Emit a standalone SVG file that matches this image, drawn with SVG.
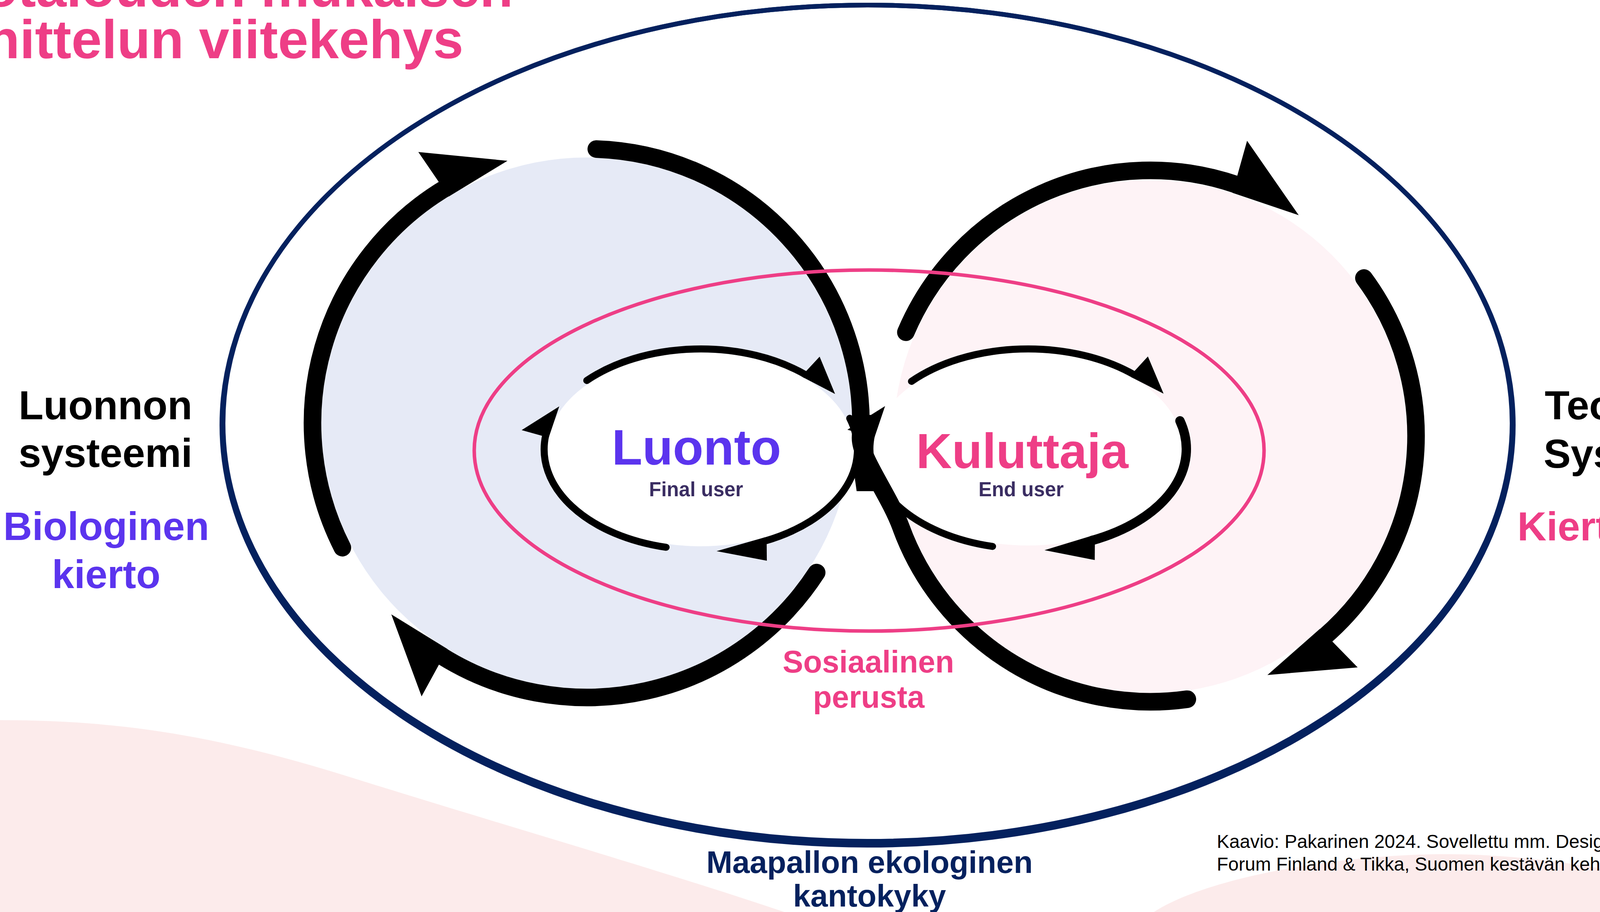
<svg xmlns="http://www.w3.org/2000/svg" width="4497" height="2334" viewBox="0 0 4497 2334">
<defs>
<style>
text{font-family:"Liberation Sans",Arial,sans-serif;font-weight:bold}
.ring{fill:none;stroke:#000;stroke-width:45;stroke-linecap:round}
.inner{fill:none;stroke:#000;stroke-width:18;stroke-linecap:round}
.ah{fill:#000}
.pk{fill:#EE3E86}
.pu{fill:#5B34EE}
.nv{fill:#04215E}
.bk{fill:#000}
.sub{fill:#3A2D62}
.mid{text-anchor:middle}
.navy{fill:none;stroke:#04215E;stroke-width:12}
</style>
</defs>
<rect width="4497" height="2334" fill="#fff"/>
<g id="background">
<path d="M0,1843 C300,1843 550,1880 900,1990 C1300,2115 1700,2230 2008,2334 L0,2334 Z" fill="#FCEBEB"/>
<path d="M2954,2334 C3100,2240 3450,2186 3700,2186 C3950,2186 4300,2240 4416,2334 Z" fill="#FCEBEB"/>
</g>
<g id="title">
<text class="pk" x="-40" y="17" font-size="140">otalouden mukaisen</text>
<text class="pk" x="-35" y="149" font-size="140">nittelun viitekehys</text>
</g>
<g id="earth-capacity">
<ellipse class="navy" cx="2221" cy="1083" rx="1650" ry="1070"/>
<ellipse class="navy" cx="2221" cy="1088" rx="1653" ry="1075"/>
<text class="nv mid" x="2226" y="2234" font-size="80">Maapallon ekologinen</text>
<text class="nv mid" x="2226" y="2320" font-size="80">kantokyky</text>
</g>
<g id="natural-system">
<circle cx="1502" cy="1083" r="680" fill="#E6EAF6"/>
<text class="bk mid" x="270" y="1073" font-size="104">Luonnon</text>
<text class="bk mid" x="270" y="1195" font-size="104">systeemi</text>
<text class="pu mid" x="272" y="1382" font-size="102">Biologinen</text>
<text class="pu mid" x="272" y="1505" font-size="102">kierto</text>
</g>
<g id="industrial-system">
<circle cx="2945" cy="1117" r="657" fill="#FEF3F6"/>
<text class="bk mid" x="4179" y="1073" font-size="104">Teollinen</text>
<text class="bk mid" x="4180" y="1197" font-size="104">Systeemi</text>
<text class="pk mid" x="4185" y="1383" font-size="103">Kiertotalous</text>
</g>
<g id="luonto">
<ellipse cx="1794" cy="1150" rx="392" ry="248" fill="#fff"/>
</g>
<g id="kuluttaja">
<ellipse cx="2632" cy="1149" rx="396" ry="247" fill="#fff"/>
</g>
<g id="connectors">
<path class="ring" d="M1526.5,381.4 A702,702 0 0 1 2203,1119.7 C2201,1170 2275,1264 2306.1,1348.6 A680,680 0 0 0 3039.6,1789.4"/>
<path d="M2188,1062 L2238,1062 L2232,1120 L2238,1200 L2256,1257 L2193,1257 L2185,1200 L2196,1150 Z" fill="#000"/>
<path class="ring" d="M876.5,1401.7 A702,702 0 0 1 1140.4,481.3"/>
<path class="ring" d="M2090.7,1465.3 A702,702 0 0 1 1130,1678.3"/>
<path class="ring" d="M2319,850.3 A680,680 0 0 1 3166.4,473"/>
<path class="ring" d="M3491.6,711.5 A680,680 0 0 1 3391.1,1629.2"/>
<polygon class="ah" points="-4,23 -12,-115 172,22" transform="translate(1140.4,481.3) rotate(-31)"/>
<polygon class="ah" points="-4,23 -12,-115 165,22" transform="translate(1130,1678.3) rotate(212)"/>
<polygon class="ah" points="-4,23 -12,-115 175,22" transform="translate(3166.4,473) rotate(19)"/>
<polygon class="ah" points="-4,23 -12,-115 175,22" transform="translate(3391.1,1629.2) rotate(139)"/>
<path class="inner" d="M1502.2,973.8 A401,257 0 0 1 2062.3,959"/>
<path class="inner" d="M2175.4,1070.6 A401,257 0 0 1 1957.1,1384.8"/>
<path class="inner" d="M1705.2,1400.6 A401,257 0 0 1 1396.9,1114.2"/>
<polygon class="ah" points="-3,9 -3,-10 8,-58 90,5" transform="translate(2062.3,959) rotate(30)"/>
<polygon class="ah" points="-3,9 -3,-10 8,-50 125,9" transform="translate(1957.1,1384.8) rotate(164.1)"/>
<polygon class="ah" points="-3,9 -3,-10 0,-63 80,18" transform="translate(1396.9,1114.2) rotate(-77.6)"/>
<path class="inner" d="M2333.4,976 A405,256 0 0 1 2903,958.8"/>
<path class="inner" style="stroke-width:24" d="M3020.7,1077.1 A405,256 0 0 1 2796.7,1382.9"/>
<path class="inner" d="M2540.9,1398.4 A405,256 0 0 1 2230.9,1113.4"/>
<polygon class="ah" points="-3,9 -3,-10 8,-58 90,5" transform="translate(2903,958.8) rotate(29.6)"/>
<polygon class="ah" points="-3,12 -3,-12 8,-50 125,9" transform="translate(2796.7,1382.9) rotate(164.3)"/>
<polygon class="ah" points="-3,9 -3,-10 0,-63 80,18" transform="translate(2230.9,1113.4) rotate(-77.5)"/>
</g>
<g id="social-foundation">
<ellipse cx="2225" cy="1153" rx="1011" ry="462" fill="none" stroke="#EE3E86" stroke-width="9"/>
<text class="pk mid" x="2223" y="1721" font-size="79">Sosiaalinen</text>
<text class="pk mid" x="2224" y="1811" font-size="79">perusta</text>
</g>
<g id="node-labels">
<text class="pu mid" x="1783" y="1189" font-size="128">Luonto</text>
<text class="sub mid" x="1782" y="1270" font-size="51">Final user</text>
<text class="pk mid" x="2617" y="1198" font-size="127">Kuluttaja</text>
<text class="sub mid" x="2614" y="1270" font-size="51">End user</text>
</g>
<g id="source">
<text x="3115" y="2170" font-size="48" style="font-weight:normal" fill="#000">Kaavio: Pakarinen 2024. Sovellettu mm. Design</text>
<text x="3115" y="2228" font-size="48" style="font-weight:normal" fill="#000">Forum Finland &amp; Tikka, Suomen kestävän kehityksen toimikunta</text>
</g>
</svg>
